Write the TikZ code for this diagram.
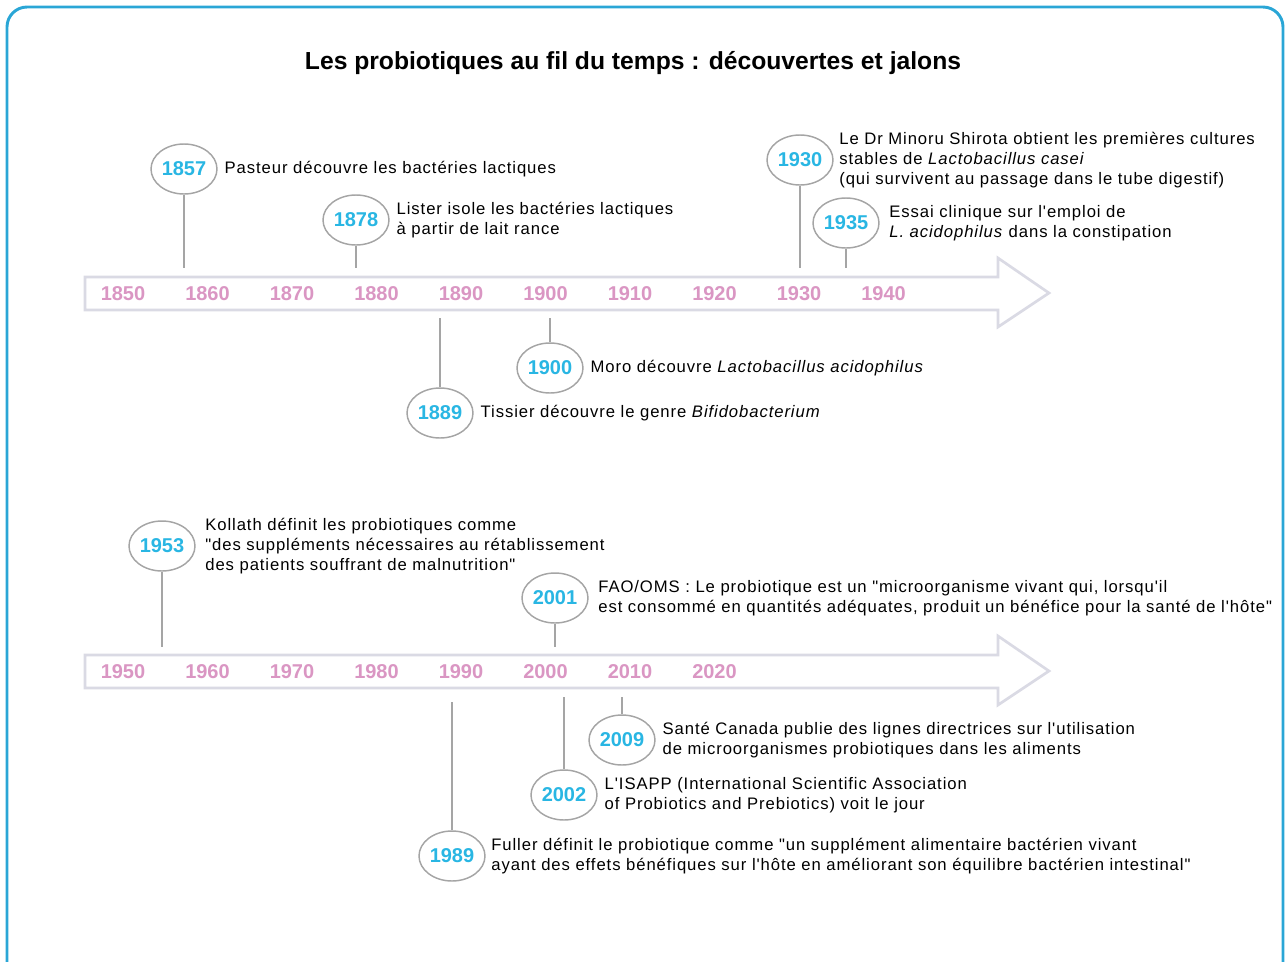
\documentclass[tikz,border=0pt]{standalone}
\usepackage{fontspec}
\setmainfont{Liberation Sans}
\newfontfamily\evfont{Liberation Sans}[LetterSpace=5.5]
\usetikzlibrary{positioning,shapes.geometric}
\definecolor{cadre}{RGB}{42,166,214}
\definecolor{anneebleu}{RGB}{41,182,227}
\definecolor{anneerose}{RGB}{218,150,195}
\definecolor{gris fleche}{RGB}{218,218,228}
\definecolor{trait}{RGB}{165,165,165}

\begin{document}
\begin{tikzpicture}[x=0.75pt,y=-0.75pt]
\tikzstyle{bulle}=[draw=trait,line width=1.1pt,shape=ellipse,minimum width=49.5pt,minimum height=37.5pt,inner sep=0pt,text=anneebleu,font=\fontsize{15}{18}\selectfont\bfseries];
\tikzstyle{evt}=[inner sep=0pt,align=left,font=\evfont\fontsize{12.5}{15}\selectfont];
\tikzstyle{tige}=[draw=trait,line width=1.1pt];
\tikzstyle{decennie}=[text=anneerose,font=\fontsize{15}{18}\selectfont\bfseries];
\tikzstyle{fleche}=[draw=gris fleche,line width=2pt,fill=white];

\useasboundingbox (0,0) rectangle (1286,961);
\draw[cadre,line width=2.2pt,rounded corners=15pt] (7,7) rectangle (1283,1000);

\node[font=\fontsize{18.5}{22}\selectfont\bfseries] (titre) at (633,63) {Les probiotiques au fil du temps : découvertes et jalons};

% les deux flèches
\foreach \y in {293,671}
{
\draw[fleche] (85,\y-16) -- (998,\y-16) -- (998,\y-35) -- (1049,\y) -- (998,\y+34) -- (998,\y+17) -- (85,\y+17) -- cycle;
}
\foreach \an [count=\i from 0] in {1850,1860,...,1940}
\path (123+84.5*\i,294) node[decennie] (d\an) {\an};
\foreach \an [count=\i from 0] in {1950,1960,...,2020}
\path (123+84.5*\i,672) node[decennie] (d\an) {\an};

% bulles et tiges
\foreach \an/\x/\y/\yb in {1857/184/169/268, 1878/356/220/268, 1930/800/160/268, 1935/846/223/268,
  1889/440/413/318, 1900/550/368/318, 1953/162/546/647, 2001/555/598/647,
  2009/622/740/697, 2002/564/795/697, 1989/452/856/702}
{
\path (\x,\y) node[bulle] (e\an) {\an};
\coordinate (a\an) at (\x,\yb);
\draw[tige] (e\an) -- (a\an);
}

\node[evt,right=5pt of e1857] (t1857) {Pasteur découvre les bactéries lactiques};
\node[evt,right=5pt of e1878] (t1878) {Lister isole les bactéries lactiques\\à partir de lait rance};
\node[evt,right=4pt of e1930] (t1930) {Le Dr Minoru Shirota obtient les premières cultures\\stables de \textit{Lactobacillus casei}\\(qui survivent au passage dans le tube digestif)};
\node[evt,right=7pt of e1935] (t1935) {Essai clinique sur l'emploi de\\\textit{L. acidophilus} dans la constipation};
\node[evt,right=5pt of e1900] (t1900) {Moro découvre \textit{Lactobacillus acidophilus}};
\node[evt,right=5pt of e1889] (t1889) {Tissier découvre le genre \textit{Bifidobacterium}};
\node[evt,right=7pt of e1953] (t1953) {Kollath définit les probiotiques comme\\"des suppléments nécessaires au rétablissement\\des patients souffrant de malnutrition"};
\node[evt,right=7pt of e2001] (t2001) {FAO/OMS : Le probiotique est un "microorganisme vivant qui, lorsqu'il\\est consommé en quantités adéquates, produit un bénéfice pour la santé de l'hôte"};
\node[evt,right=5pt of e2009] (t2009) {Santé Canada publie des lignes directrices sur l'utilisation\\de microorganismes probiotiques dans les aliments};
\node[evt,right=5pt of e2002] (t2002) {L'ISAPP (International Scientific Association\\of Probiotics and Prebiotics) voit le jour};
\node[evt,right=4pt of e1989] (t1989) {Fuller définit le probiotique comme "un supplément alimentaire bactérien vivant\\ayant des effets bénéfiques sur l'hôte en améliorant son équilibre bactérien intestinal"};
\end{tikzpicture}
\end{document}
